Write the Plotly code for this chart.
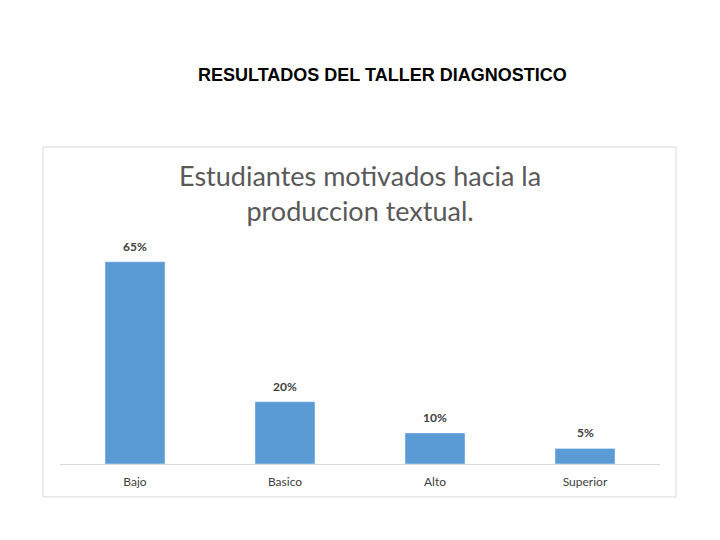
import plotly.graph_objects as go

# datos del grafico
niveles = ["Bajo", "Basico", "Alto", "Superior"]
porcentajes = [65, 20, 10, 5]
etiquetas = [str(p) + "%" for p in porcentajes]

titulo_slide = "RESULTADOS DEL TALLER DIAGNOSTICO"
titulo_grafico = "Estudiantes motivados hacia la<br>produccion textual."

fig = go.Figure()
fig.add_trace(go.Bar(
    x=niveles, y=porcentajes,
    marker=dict(color="#5B9BD5"),
    hoverinfo="skip"
))

# etiquetas de datos encima de cada barra
for n, p, e in zip(niveles, porcentajes, etiquetas):
    fig.add_annotation(x=n, y=p, text="<b>" + e + "</b>", showarrow=False,
                       yanchor="bottom", yshift=6,
                       font=dict(family="Lato, sans-serif", size=12, color="#404040"))

fig.update_layout(
    width=720, height=540,
    paper_bgcolor="white", plot_bgcolor="white",
    margin=dict(l=52, r=68, t=232, b=84),
    bargap=0.6,
    showlegend=False,
    font=dict(family="Lato, sans-serif", color="#595959"),
    xaxis=dict(showline=True, linecolor="#D9D9D9", linewidth=1,
               ticks="outside", ticklen=7, tickcolor="white",
               tickfont=dict(size=12, color="#404040")),
    yaxis=dict(range=[0, 72], visible=False, showgrid=False, zeroline=False),
)

# marco del grafico
fig.add_shape(type="rect", xref="paper", yref="paper",
              x0=-0.0283, x1=1.0267, y0=-0.147, y1=1.415,
              line=dict(color="#D9D9D9", width=1), fillcolor="rgba(0,0,0,0)")

# titulo del grafico
fig.add_annotation(text=titulo_grafico, xref="paper", yref="paper",
                   x=0.5, y=1.37, yanchor="top", showarrow=False,
                   font=dict(family="Lato, sans-serif", size=27, color="#595959"))

# titulo de la diapositiva
fig.add_annotation(text="<b>" + titulo_slide + "</b>", xref="paper", yref="paper",
                   x=(382 - 60) / 600, y=(464 - 63) / 224, showarrow=False,
                   font=dict(family="Liberation Sans, Arial", size=18, color="black"))

fig.write_html("out.html")
